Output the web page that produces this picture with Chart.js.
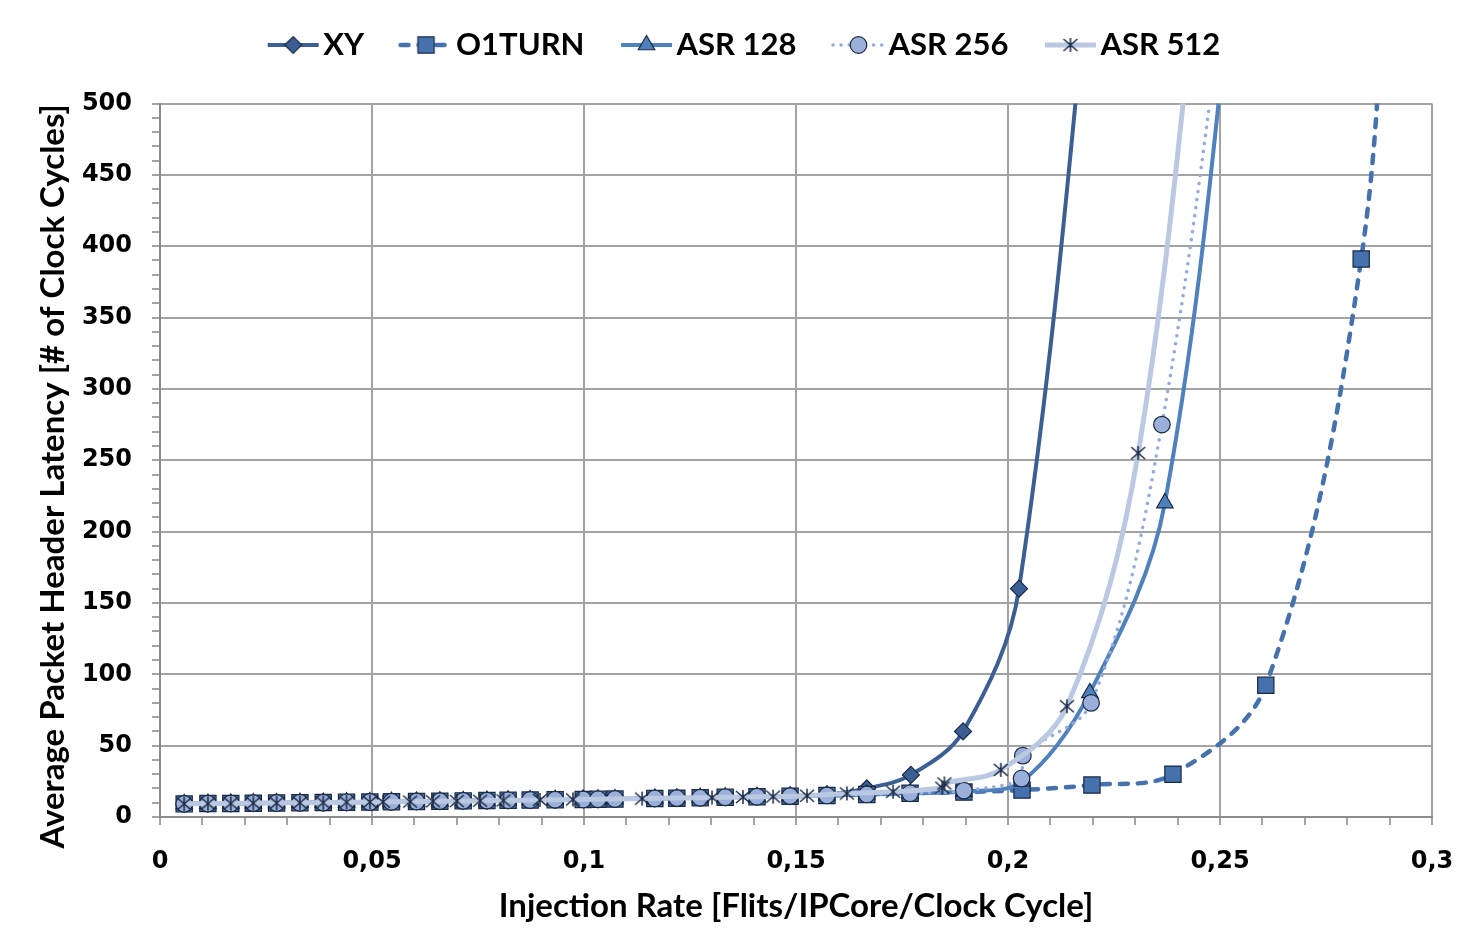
<!DOCTYPE html>
<html>
<head>
<meta charset="utf-8">
<title>Average Packet Header Latency</title>
<script src="https://cdn.jsdelivr.net/npm/chart.js@4.4.1/dist/chart.umd.min.js"></script>
<style>
  html, body { margin: 0; padding: 0; background: #fff; }
  #wrap { width: 1460px; height: 946px; }
</style>
</head>
<body>
<div id="wrap"><canvas id="latencyChart"></canvas></div>
<script>
// low-load part, shared by XY, O1TURN, ASR 128 and ASR 256
const baseRate = [0.0057, 0.0113, 0.0167, 0.0220, 0.0275, 0.0330, 0.0385, 0.0440, 0.0495, 0.0546,
    0.0605, 0.0660, 0.0715, 0.0771, 0.0821, 0.0873, 0.0932, 0.0998, 0.1033, 0.1073,
    0.1167, 0.1219, 0.1274, 0.1333, 0.1408, 0.1486];
const baseLatency = [9.2, 9.4, 9.5, 9.7, 9.8, 10.0, 10.1, 10.3, 10.5, 10.7,
    10.9, 11.1, 11.3, 11.5, 11.7, 11.9, 12.1, 12.3, 12.4, 12.6,
    13.0, 13.2, 13.5, 13.8, 14.2, 14.6];

// saturation part of each series (last point lies above the axis maximum)
const xyRate = [0.1573, 0.1667, 0.1771, 0.1894, 0.2026, 0.2245];
const xyLatency = [15.8, 20.0, 29.5, 60, 160, 760];

const o1turnRate = [0.1573, 0.1667, 0.1769, 0.1896, 0.2033, 0.2198, 0.2389, 0.2608, 0.2833, 0.2905];
const o1turnLatency = [15.1, 15.8, 16.6, 17.5, 18.9, 22.4, 30, 92.3, 391, 700];

const asr128Rate = [0.1573, 0.1667, 0.1769, 0.1896, 0.2033, 0.2193, 0.2370, 0.2570];
const asr128Latency = [15.1, 15.8, 16.6, 17.8, 25, 87, 220, 700];

const asr256Rate = [0.1573, 0.1667, 0.1769, 0.1896, 0.2032, 0.2035, 0.2196, 0.2363, 0.2555];
const asr256Latency = [15.1, 15.8, 16.6, 18.5, 27, 43, 80, 275, 680];

const asr512Rate = [0.0057, 0.0113, 0.0167, 0.0220, 0.0275, 0.0330, 0.0385, 0.0440, 0.0495, 0.0526,
    0.0590, 0.0644, 0.0700, 0.0755, 0.0810, 0.0896, 0.0974, 0.1137, 0.1302, 0.1375,
    0.1446, 0.1526, 0.1620, 0.1729, 0.1845, 0.1850, 0.1983, 0.2139, 0.2307, 0.2485];
const asr512Latency = [9.2, 9.4, 9.5, 9.7, 9.8, 10.0, 10.1, 10.3, 10.5, 10.6,
    10.8, 11.0, 11.2, 11.4, 11.6, 12.0, 12.3, 12.9, 13.6, 14.0,
    14.3, 14.9, 16.5, 17.7, 20.5, 23.5, 33, 77.6, 255, 700];

const seriesLabels = ['XY', 'O1TURN', 'ASR 128', 'ASR 256', 'ASR 512'];

const markerEdge = '#1A2A44';
const gridColor = '#A3A3A3';
const titleFont = { family: 'Lato, "Noto Sans", sans-serif', weight: 'bold', size: 33 };
const legendFont = { family: 'Lato, "Noto Sans", sans-serif', weight: 'bold', size: 31 };
const tickFont = { family: '"DejaVu Sans", sans-serif', weight: 'bold', size: 24 };

function makeCanvas(w, h, draw) {
    const c = document.createElement('canvas');
    c.width = w;
    c.height = h;
    draw(c.getContext('2d'));
    return c;
}

// Excel-like star marker: vertical bar plus an X
const starMarker = makeCanvas(18, 18, (ctx) => {
    ctx.strokeStyle = markerEdge;
    ctx.lineWidth = 1.5;
    ctx.beginPath();
    ctx.moveTo(9, 2); ctx.lineTo(9, 16);
    ctx.moveTo(2, 3); ctx.lineTo(16, 15);
    ctx.moveTo(16, 3); ctx.lineTo(2, 15);
    ctx.stroke();
});

const styles = [
    { color: '#3B5F93', fill: '#3B5F93', width: 4, dash: [], cap: 'butt', marker: 'rectRot', radius: 8.5 },
    { color: '#4571AC', fill: '#4571AC', width: 4.5, dash: [8, 10], cap: 'round', marker: 'rect', radius: 11.5 },
    { color: '#4F81BD', fill: '#4F81BD', width: 4, dash: [], cap: 'butt', marker: 'triangle', radius: 9.5 },
    { color: '#95ABD6', fill: '#9AAFD9', width: 3.5, dash: [0.1, 8], cap: 'round', marker: 'circle', radius: 8.3 },
    { color: '#BAC8E2', fill: '#BAC8E2', width: 5, dash: [], cap: 'butt', marker: starMarker, radius: 8 },
];

function points(rates, latencies) {
    return rates.map((x, i) => ({ x: x, y: latencies[i] }));
}

const seriesData = [
    points(baseRate.concat(xyRate), baseLatency.concat(xyLatency)),
    points(baseRate.concat(o1turnRate), baseLatency.concat(o1turnLatency)),
    points(baseRate.concat(asr128Rate), baseLatency.concat(asr128Latency)),
    points(baseRate.concat(asr256Rate), baseLatency.concat(asr256Latency)),
    points(asr512Rate, asr512Latency),
];

// line + marker swatch for the legend; drawn in the right part of a wider
// canvas so it sits close to its label
const swatchW = 66;
function legendSample(s) {
    return makeCanvas(100, 30, (ctx) => {
        ctx.strokeStyle = s.color;
        ctx.lineWidth = s.width;
        ctx.lineCap = s.cap;
        ctx.setLineDash(s.dash);
        ctx.beginPath();
        ctx.moveTo(43, 15);
        ctx.lineTo(94, 15);
        ctx.stroke();
        ctx.setLineDash([]);
        ctx.fillStyle = s.fill;
        ctx.strokeStyle = markerEdge;
        ctx.lineWidth = 1.2;
        Chart.helpers.drawPoint(ctx, { pointStyle: s.marker, radius: s.radius, rotation: 0, borderWidth: 1.2 }, 68.5, 15);
    });
}

const datasets = seriesLabels.map((label, i) => {
    const s = styles[i];
    return {
        label: label,
        data: seriesData[i],
        borderColor: s.color,
        backgroundColor: s.fill,
        borderWidth: s.width,
        borderDash: s.dash,
        borderCapStyle: s.cap,
        pointStyle: s.marker,
        pointRadius: s.radius,
        pointBackgroundColor: s.fill,
        pointBorderColor: markerEdge,
        pointBorderWidth: 1.2,
        tension: 0.35,
        fill: false,
        order: seriesLabels.length - i, // later series drawn on top, as in the original
    };
});

// push the plot area down below the legend
const legendGap = {
    id: 'legendGap',
    beforeInit(chart) {
        const fit = chart.legend.fit;
        chart.legend.fit = function () {
            fit.call(chart.legend);
            this.height += 33;
        };
    },
};

new Chart(document.getElementById('latencyChart'), {
    type: 'line',
    data: { datasets: datasets },
    plugins: [legendGap],
    options: {
        responsive: true,
        maintainAspectRatio: false,
        animation: false,
        events: [],
        layout: { padding: { left: 30, right: 28, top: 19, bottom: 20 } },
        elements: { line: { capBezierPoints: false } },
        plugins: {
            tooltip: { enabled: false },
            legend: {
                position: 'top',
                labels: {
                    usePointStyle: true,
                    pointStyleWidth: swatchW,
                    padding: 10.5,
                    color: '#000',
                    font: legendFont,
                    generateLabels: (chart) => chart.data.datasets.map((ds, i) => ({
                        text: ds.label,
                        pointStyle: legendSample(styles[i]),
                        fillStyle: styles[i].fill,
                        strokeStyle: styles[i].color,
                        lineWidth: 0,
                        hidden: false,
                        datasetIndex: i,
                    })),
                },
            },
        },
        scales: {
            x: {
                type: 'linear',
                min: 0,
                max: 0.3,
                ticks: {
                    stepSize: 0.01,
                    autoSkip: false,
                    maxRotation: 0,
                    minRotation: 0,
                    padding: 22,
                    color: '#000',
                    font: tickFont,
                    callback: (value) => {
                        const i = Math.round(value * 100);
                        return i % 5 ? '' : String(i / 100).replace('.', ',');
                    },
                },
                grid: {
                    color: (ctx) => (Math.round(ctx.tick.value * 100) % 5 ? 'rgba(0,0,0,0)' : gridColor),
                    tickColor: gridColor,
                    lineWidth: 2,
                    tickLength: 8,
                },
                border: { color: '#8C8C8C', width: 2 },
                title: {
                    display: true,
                    text: 'Injection Rate [Flits/IPCore/Clock Cycle]',
                    color: '#000',
                    font: titleFont,
                    padding: { top: 0, bottom: 0 },
                },
                afterFit: (scale) => {
                    scale.height = 109;
                    scale.paddingRight = 0;
                },
            },
            y: {
                min: 0,
                max: 500,
                ticks: {
                    stepSize: 10,
                    autoSkip: false,
                    padding: 20,
                    color: '#000',
                    font: tickFont,
                    callback: (value) => (value % 50 === 0 ? value : ''),
                },
                grid: {
                    color: (ctx) => (ctx.tick.value % 50 ? 'rgba(0,0,0,0)' : gridColor),
                    tickColor: gridColor,
                    lineWidth: 2,
                    tickLength: 8,
                },
                border: { color: '#8C8C8C', width: 2 },
                title: {
                    display: true,
                    text: 'Average Packet Header Latency [# of Clock Cycles]    ',
                    color: '#000',
                    font: titleFont,
                    padding: { top: 4, bottom: 0 },
                },
                afterFit: (scale) => { scale.width = 130; },
            },
        },
    },
});
</script>
</body>
</html>
